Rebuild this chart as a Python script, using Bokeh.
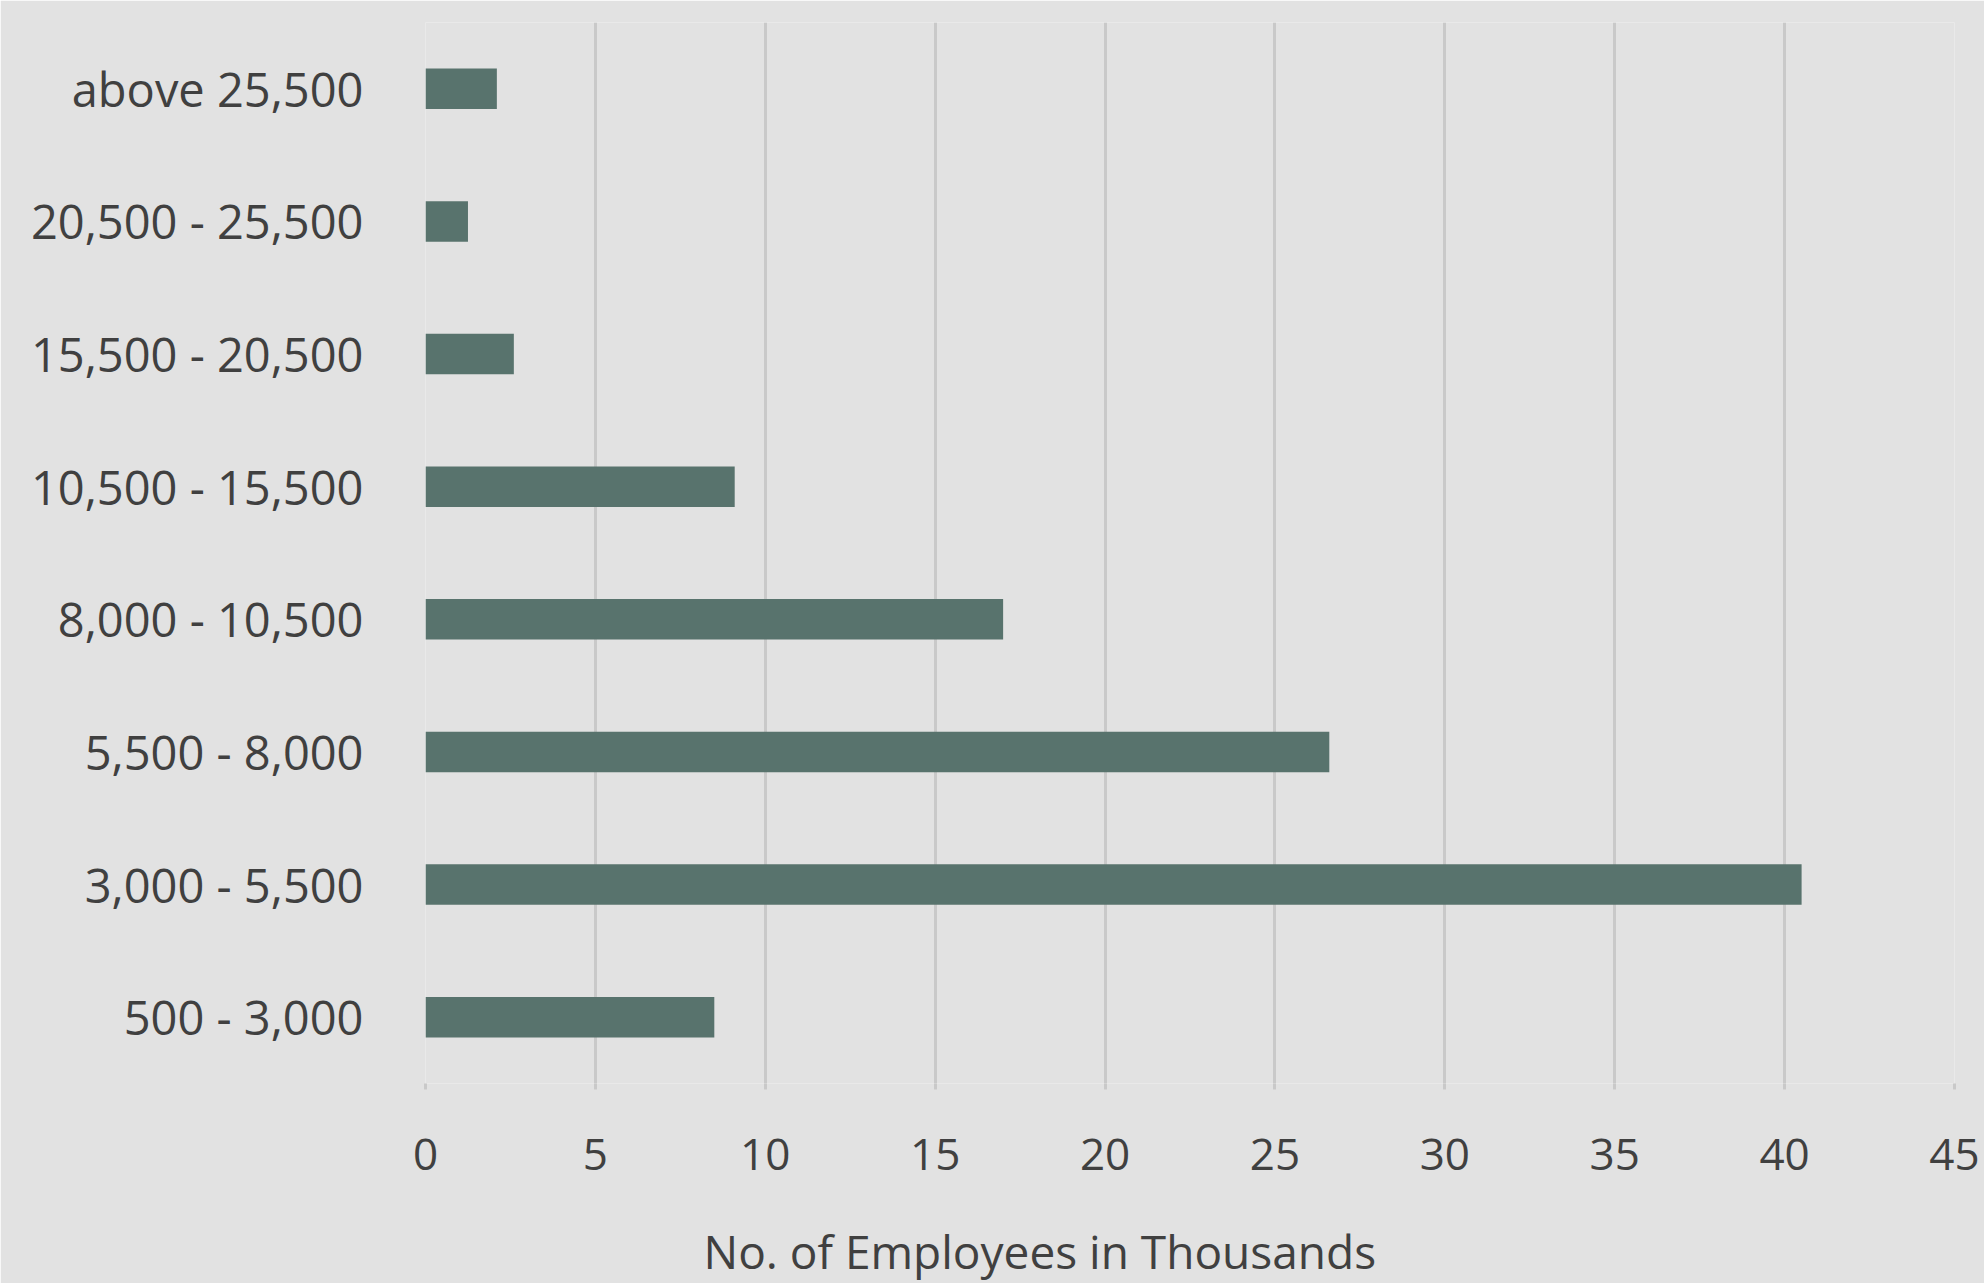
from bokeh.plotting import figure
from bokeh.models import FactorRange, Range1d, Title, FixedTicker, LinearAxis
from bokeh.embed import file_html
from bokeh.resources import INLINE

categories = ["500 - 3,000", "3,000 - 5,500", "5,500 - 8,000", "8,000 - 10,500",
              "10,500 - 15,500", "15,500 - 20,500", "20,500 - 25,500", "above 25,500"]
employees_k = [8.5, 40.5, 26.6, 17.0, 9.1, 2.6, 1.25, 2.1]
x_ticks = [0, 5, 10, 15, 20, 25, 30, 35, 40, 45]
x_title = "No. of Employees in Thousands"

BG = "#e2e2e2"
BAR = "#58736d"
TXT = "#404040"
GRID = "#c9c9c9"
FONT = "Open Sans"

p = figure(width=1984, height=1283, output_backend="svg", toolbar_location=None,
           y_range=FactorRange(*categories, range_padding=0), x_range=Range1d(0, 45),
           min_border_left=425, min_border_right=30, min_border_top=22, min_border_bottom=200)
p.background_fill_color = BG
p.border_fill_color = BG
p.outline_line_color = None

p.hbar(y=categories, right=employees_k, left=0, height=0.305, color=BAR, line_color=None)

p.xgrid.grid_line_color = GRID
p.xgrid.grid_line_width = 3
p.xgrid.ticker = FixedTicker(ticks=x_ticks)
p.ygrid.grid_line_color = None

xa = p.xaxis[0]
xa.ticker = FixedTicker(ticks=x_ticks)
xa.axis_line_color = None
xa.major_tick_line_color = GRID
xa.major_tick_line_width = 3
xa.major_tick_out = 6
xa.major_tick_in = 0
xa.minor_tick_line_color = None
xa.major_label_text_font = FONT
xa.major_label_text_font_size = "44px"
xa.major_label_text_color = TXT
xa.major_label_standoff = 49

ya = p.yaxis[0]
ya.axis_line_color = None
ya.major_tick_line_color = None
ya.minor_tick_line_color = None
ya.major_label_text_font = FONT
ya.major_label_text_font_size = "47px"
ya.major_label_text_color = TXT
ya.major_label_standoff = 56

# spacer between tick labels and the axis title (tick drawn in background colour)
spacer = LinearAxis(ticker=FixedTicker(ticks=[45]), axis_line_color=None,
                    major_tick_line_color=BG, major_tick_line_width=1,
                    minor_tick_line_color=None,
                    major_tick_out=44, major_tick_in=0, minor_tick_out=0, minor_tick_in=0,
                    major_label_overrides={45: ""}, major_label_text_font_size="1px",
                    major_label_standoff=0, axis_label_standoff=0)
p.add_layout(spacer, "below")

t = Title(text=x_title, align="left", offset=278, vertical_align="bottom",
          text_font=FONT, text_font_size="46px", text_color=TXT,
          text_font_style="normal", standoff=2)
p.add_layout(t, "below")

open("out.html", "w").write(file_html(p, INLINE))
